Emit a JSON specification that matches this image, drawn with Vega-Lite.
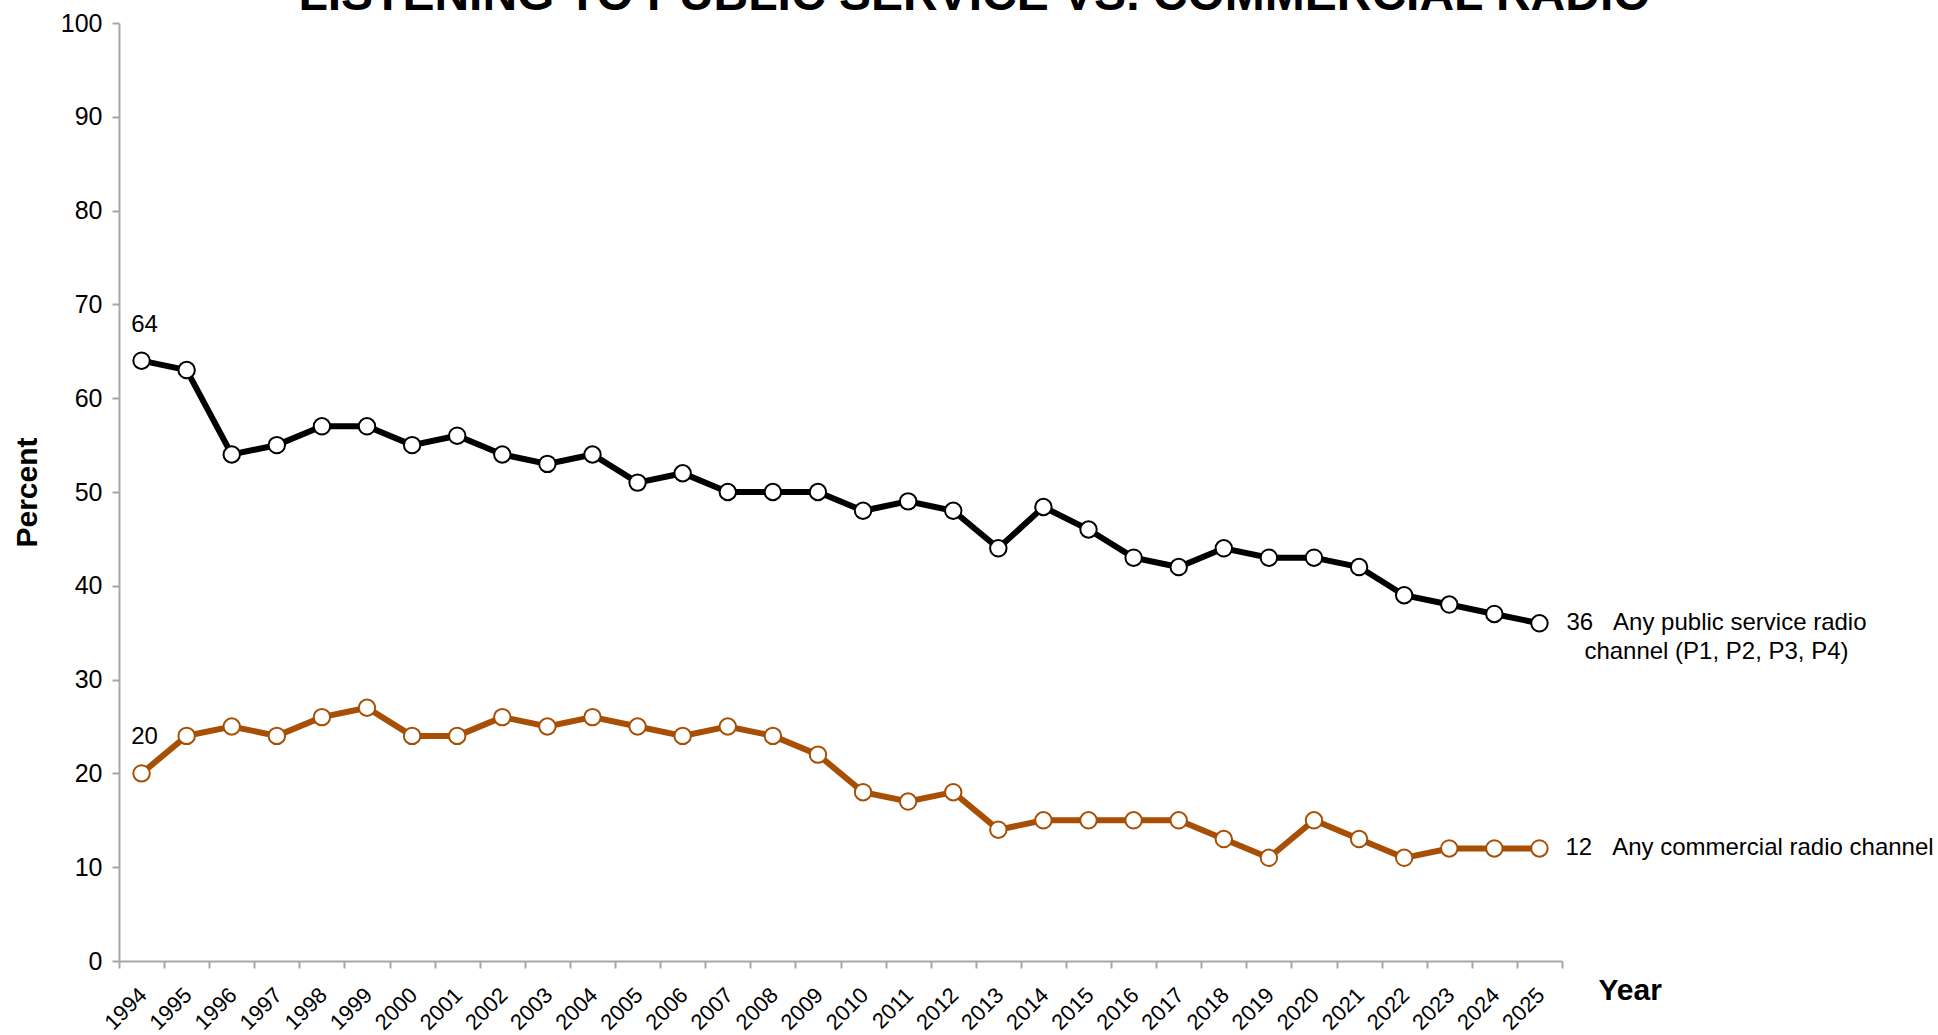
{
  "$schema": "https://vega.github.io/schema/vega-lite/v6.json",
  "autosize": {"type": "none"},
  "padding": {"top": 23, "left": 119, "right": 376, "bottom": 74},
  "width": 1443,
  "height": 938,
  "background": "white",
  "config": {
    "view": {"stroke": null},
    "font": "Liberation Sans"
  },
  "title": {
    "text": "LISTENING TO PUBLIC SERVICE VS. COMMERCIAL RADIO",
    "fontSize": 48,
    "fontWeight": "bold",
    "font": "Liberation Sans",
    "color": "black",
    "anchor": "middle",
    "baseline": "alphabetic",
    "dx": 134,
    "dy": 47,
    "offset": 0
  },
  "data": {
    "values": [
      {"Year": "1994", "series": "public", "value": 64},
      {"Year": "1995", "series": "public", "value": 63},
      {"Year": "1996", "series": "public", "value": 54},
      {"Year": "1997", "series": "public", "value": 55},
      {"Year": "1998", "series": "public", "value": 57},
      {"Year": "1999", "series": "public", "value": 57},
      {"Year": "2000", "series": "public", "value": 55},
      {"Year": "2001", "series": "public", "value": 56},
      {"Year": "2002", "series": "public", "value": 54},
      {"Year": "2003", "series": "public", "value": 53},
      {"Year": "2004", "series": "public", "value": 54},
      {"Year": "2005", "series": "public", "value": 51},
      {"Year": "2006", "series": "public", "value": 52},
      {"Year": "2007", "series": "public", "value": 50},
      {"Year": "2008", "series": "public", "value": 50},
      {"Year": "2009", "series": "public", "value": 50},
      {"Year": "2010", "series": "public", "value": 48},
      {"Year": "2011", "series": "public", "value": 49},
      {"Year": "2012", "series": "public", "value": 48},
      {"Year": "2013", "series": "public", "value": 44},
      {"Year": "2014", "series": "public", "value": 48.4},
      {"Year": "2015", "series": "public", "value": 46},
      {"Year": "2016", "series": "public", "value": 43},
      {"Year": "2017", "series": "public", "value": 42},
      {"Year": "2018", "series": "public", "value": 44},
      {"Year": "2019", "series": "public", "value": 43},
      {"Year": "2020", "series": "public", "value": 43},
      {"Year": "2021", "series": "public", "value": 42},
      {"Year": "2022", "series": "public", "value": 39},
      {"Year": "2023", "series": "public", "value": 38},
      {"Year": "2024", "series": "public", "value": 37},
      {"Year": "2025", "series": "public", "value": 36},
      {"Year": "1994", "series": "commercial", "value": 20},
      {"Year": "1995", "series": "commercial", "value": 24},
      {"Year": "1996", "series": "commercial", "value": 25},
      {"Year": "1997", "series": "commercial", "value": 24},
      {"Year": "1998", "series": "commercial", "value": 26},
      {"Year": "1999", "series": "commercial", "value": 27},
      {"Year": "2000", "series": "commercial", "value": 24},
      {"Year": "2001", "series": "commercial", "value": 24},
      {"Year": "2002", "series": "commercial", "value": 26},
      {"Year": "2003", "series": "commercial", "value": 25},
      {"Year": "2004", "series": "commercial", "value": 26},
      {"Year": "2005", "series": "commercial", "value": 25},
      {"Year": "2006", "series": "commercial", "value": 24},
      {"Year": "2007", "series": "commercial", "value": 25},
      {"Year": "2008", "series": "commercial", "value": 24},
      {"Year": "2009", "series": "commercial", "value": 22},
      {"Year": "2010", "series": "commercial", "value": 18},
      {"Year": "2011", "series": "commercial", "value": 17},
      {"Year": "2012", "series": "commercial", "value": 18},
      {"Year": "2013", "series": "commercial", "value": 14},
      {"Year": "2014", "series": "commercial", "value": 15},
      {"Year": "2015", "series": "commercial", "value": 15},
      {"Year": "2016", "series": "commercial", "value": 15},
      {"Year": "2017", "series": "commercial", "value": 15},
      {"Year": "2018", "series": "commercial", "value": 13},
      {"Year": "2019", "series": "commercial", "value": 11},
      {"Year": "2020", "series": "commercial", "value": 15},
      {"Year": "2021", "series": "commercial", "value": 13},
      {"Year": "2022", "series": "commercial", "value": 11},
      {"Year": "2023", "series": "commercial", "value": 12},
      {"Year": "2024", "series": "commercial", "value": 12},
      {"Year": "2025", "series": "commercial", "value": 12}
    ]
  },
  "encoding": {
    "x": {
      "field": "Year",
      "type": "ordinal",
      "scale": {"type": "band", "paddingInner": 0, "paddingOuter": 0},
      "axis": {
        "title": "Year",
        "titleFontSize": 30,
        "titleFontWeight": "bold",
        "titleColor": "black",
        "titleX": 1479,
        "titleY": 29,
        "titleAlign": "left",
        "titleBaseline": "middle",
        "titleAngle": 0,
        "labelAngle": -45,
        "labelAlign": "right",
        "labelBaseline": "top",
        "labelFontSize": 22,
        "labelColor": "black",
        "labelPadding": 16,
        "labelOffset": -6,
        "tickBand": "extent",
        "tickSize": 7,
        "tickColor": "#a6a6a6",
        "tickWidth": 2,
        "domainColor": "#a6a6a6",
        "domainWidth": 2,
        "grid": false
      }
    },
    "y": {
      "field": "value",
      "type": "quantitative",
      "scale": {"domain": [0, 100], "nice": false, "zero": true},
      "axis": {
        "title": "Percent",
        "titleFontSize": 30,
        "titleFontWeight": "bold",
        "titleColor": "black",
        "titlePadding": 18,
        "values": [0, 10, 20, 30, 40, 50, 60, 70, 80, 90, 100],
        "labelFontSize": 25,
        "labelColor": "black",
        "labelPadding": 10,
        "tickSize": 7,
        "tickColor": "#a6a6a6",
        "tickWidth": 2,
        "domainColor": "#a6a6a6",
        "domainWidth": 2,
        "grid": false
      }
    },
    "color": {
      "field": "series",
      "type": "nominal",
      "scale": {"domain": ["public", "commercial"], "range": ["#000000", "#A64F05"]},
      "legend": null
    }
  },
  "layer": [
    {
      "mark": {"type": "line", "strokeWidth": 6}
    },
    {
      "mark": {"type": "point", "shape": "circle", "filled": true, "fill": "white", "size": 270, "strokeWidth": 2, "opacity": 1},
      "encoding": {
        "stroke": {"field": "series", "type": "nominal", "scale": {"domain": ["public", "commercial"], "range": ["#000000", "#A64F05"]}, "legend": null}
      }
    },
    {
      "transform": [{"filter": "datum.Year == '1994'"}],
      "mark": {"type": "text", "fontSize": 24, "color": "black", "align": "center", "baseline": "middle", "dy": -36, "dx": 3},
      "encoding": {
        "text": {"field": "value", "type": "quantitative"},
        "color": {"value": "black"}
      }
    },
    {
      "transform": [{"filter": "datum.Year == '2025' && datum.series == 'public'"}, {"calculate": "datum.value + '\u00a0\u00a0\u00a0Any public service radio\\nchannel (P1, P2, P3, P4)'", "as": "label"}],
      "mark": {"type": "text", "fontSize": 24, "align": "center", "baseline": "middle", "dx": 177, "lineBreak": "\n", "lineHeight": 28.5},
      "encoding": {
        "text": {"field": "label"},
        "color": {"value": "black"}
      }
    },
    {
      "transform": [{"filter": "datum.Year == '2025' && datum.series == 'commercial'"}, {"calculate": "datum.value + '\u00a0\u00a0\u00a0Any commercial radio channel'", "as": "label"}],
      "mark": {"type": "text", "fontSize": 24, "align": "left", "baseline": "middle", "dx": 26},
      "encoding": {
        "text": {"field": "label"},
        "color": {"value": "black"}
      }
    }
  ]
}
